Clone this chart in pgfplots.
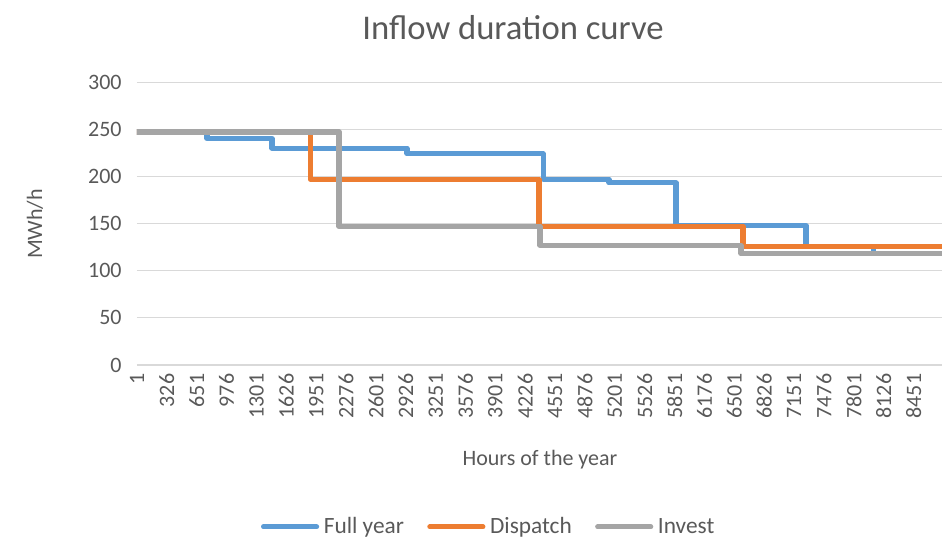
\documentclass[border=0pt]{standalone}
\usepackage{fontspec}
\setmainfont{Carlito}
\usepackage{pgfplots}
\pgfplotsset{compat=1.18}
\definecolor{fullyear}{HTML}{5B9BD5}
\definecolor{dispatch}{HTML}{ED7D31}
\definecolor{invest}{HTML}{A5A5A5}
\definecolor{txt}{HTML}{595959}
\definecolor{gridc}{HTML}{D9D9D9}
\pgfplotsset{stepline/.style={#1, line width=3.8pt, line join=round, line cap=round, const plot}}
\begin{document}
\begin{tikzpicture}
% 1 px of the reference = 0.75pt
\path[use as bounding box] (-102.75pt,-130.5pt) rectangle (610.5pt,273.75pt);
\begin{axis}[
  at={(0,0)}, anchor=south west,
  scale only axis, width=603.75pt, height=212.25pt,
  xmin=1, xmax=8760, ymin=0, ymax=300,
  xtick={1,326,...,8451}, ytick={0,50,...,300},
  axis x line*=bottom, axis y line*=left,
  x axis line style={gridc, line width=0.9pt, -},
  y axis line style={draw=none},
  major tick length=0pt,
  ymajorgrids, grid style={gridc, line width=0.75pt},
  every tick label/.append style={font=\fontsize{16.5}{18}\selectfont, text=txt},
  xticklabel style={rotate=90, anchor=east, xshift=-3pt},
  yticklabel style={anchor=east, xshift=-8pt},
  /pgf/number format/assume math mode=true,
  /pgf/number format/1000 sep={},
  legend style={at={(0.4385,-0.572)}, anchor=center, legend columns=3, draw=none, fill=none,
    font=\fontsize{17.5}{19}\selectfont, text=txt, column sep=0pt,
    nodes={inner xsep=3.5pt},
    /tikz/every even column/.append style={column sep=14pt}},
  legend image code/.code={\draw[#1, line width=3.6pt, line cap=round] (0pt,0pt) -- (40pt,0pt);},
]
\addplot[stepline=fullyear] coordinates {(1,247)(763,240)(1470,230)(2939,224)(4419,197)(5137,193)(5866,148)(7280,126)(8010,118)(8760,118)};
\addplot[stepline=dispatch] coordinates {(1,247)(1884,197)(4375,147)(6595,126)(8760,126)};
\addplot[stepline=invest] coordinates {(1,247)(2199,147)(4386,127)(6573,118)(8760,118)};
\legend{Full year,Dispatch,Invest}
\end{axis}
\node[text=txt, font=\fontsize{26}{30}\selectfont] at (282pt,252.75pt) {Inflow duration curve};
\node[text=txt, font=\fontsize{16.5}{18}\selectfont] at (302.25pt,-71.25pt) {Hours of the year};
\node[text=txt, font=\fontsize{16.5}{18}\selectfont, rotate=90] at (-76.5pt,105.75pt) {MWh/h};
\end{tikzpicture}
\end{document}
